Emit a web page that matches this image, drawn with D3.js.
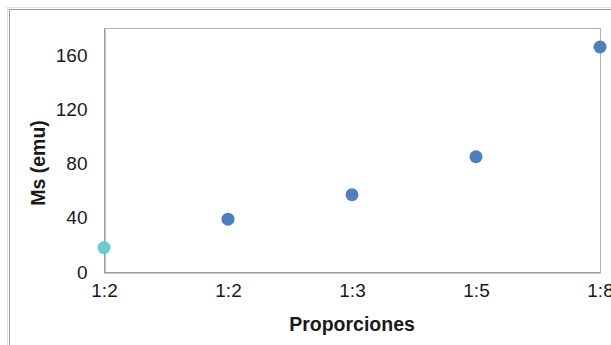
<!DOCTYPE html>
<html><head><meta charset="utf-8">
<script src="https://cdn.jsdelivr.net/npm/d3@7"></script>
<style>body{margin:0;background:#fff}svg{display:block}</style>
</head><body>
<script>
const categories = ["1:2", "1:2", "1:3", "1:5", "1:8"];
const msValues = [18, 39, 57, 85, 166];
const pointColors = ["#6ccbd3", "#4f7fba", "#4f7fba", "#4f7fba", "#4f7fba"];
const yTicks = [0, 40, 80, 120, 160];

(function () {
const W = 611, H = 345;
const svg = d3.select("body").append("svg").attr("width", W).attr("height", H);
svg.append("rect").attr("width", W).attr("height", H).attr("fill", "#fff");
// outer frame
svg.append("rect").attr("x", 7.5).attr("y", 7.5).attr("width", 700).attr("height", 500)
  .attr("fill", "none").attr("stroke", "#dcdcdc").attr("stroke-width", 1);
svg.append("rect").attr("x", 9.5).attr("y", 9.5).attr("width", 700).attr("height", 500)
  .attr("fill", "none").attr("stroke", "#9a9a9a").attr("stroke-width", 1);

const mLeft = 104, mRight = 600, mTop = 28, mBottom = 272;
const x = d3.scaleLinear().domain([0, categories.length - 1]).range([mLeft, mRight]);
const y = d3.scaleLinear().domain([0, 180]).range([mBottom, mTop]);

// plot frame
svg.append("rect").attr("x", mLeft + 0.5).attr("y", mTop + 0.5)
  .attr("width", mRight - mLeft).attr("height", mBottom - mTop)
  .attr("fill", "none").attr("stroke", "#b4b4b4");

const font = "'Liberation Sans', Arial, sans-serif";
const yAxis = d3.axisLeft(y).tickValues(yTicks).tickSize(0).tickPadding(17);
const gy = svg.append("g").attr("transform", `translate(${mLeft + 0.5},0)`).call(yAxis);
gy.select(".domain").attr("stroke", "#888");
gy.selectAll("text").attr("font-family", font).attr("font-size", 19).attr("fill", "#1a1a1a");

const xAxis = d3.axisBottom(x).tickValues(d3.range(categories.length))
  .tickFormat(i => categories[i]).tickSize(0).tickPadding(11);
const gx = svg.append("g").attr("transform", `translate(0,${mBottom + 0.5})`).call(xAxis);
gx.select(".domain").attr("stroke", "#888");
gx.selectAll("text").attr("font-family", font).attr("font-size", 19).attr("fill", "#1a1a1a");

svg.selectAll("circle.pt").data(msValues).enter().append("circle")
  .attr("class", "pt")
  .attr("cx", (d, i) => x(i)).attr("cy", d => y(d)).attr("r", 6.5)
  .attr("fill", (d, i) => pointColors[i]);

svg.append("text").attr("x", 352).attr("y", 331)
  .attr("text-anchor", "middle").attr("font-family", font).attr("font-weight", "bold")
  .attr("font-size", 19.5).attr("fill", "#1a1a1a").text("Proporciones");

svg.append("text").attr("transform", `translate(45,163) rotate(-90)`)
  .attr("text-anchor", "middle").attr("font-family", font).attr("font-weight", "bold")
  .attr("font-size", 19.5).attr("fill", "#1a1a1a").text("Ms (emu)");
})();
</script>
</body></html>
